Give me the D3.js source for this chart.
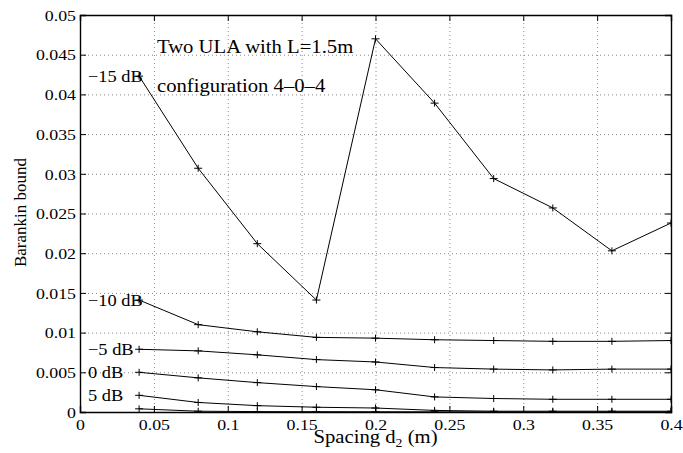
<!DOCTYPE html>
<html>
<head>
<meta charset="utf-8">
<script src="https://cdn.jsdelivr.net/npm/d3@7"></script>
<style>
  body { margin: 0; background: #ffffff; }
  svg text { font-family: "Liberation Serif", "Times New Roman", serif; fill: #000; }
</style>
</head>
<body>
<svg id="chart" width="683" height="453"></svg>
<script>
// spacing d2 values (m)
const spacing   = [0.04, 0.08, 0.12, 0.16, 0.20, 0.24, 0.28, 0.32, 0.36, 0.40];

// Barankin bound per SNR
const snrM15    = [0.0423, 0.0307, 0.0212, 0.0141, 0.0470, 0.0389, 0.0294, 0.0257, 0.0203, 0.0238];
const snrM10    = [0.0141, 0.0110, 0.0101, 0.0094, 0.0093, 0.0091, 0.0090, 0.0089, 0.0089, 0.0090];
const snrM5     = [0.0079, 0.0077, 0.0072, 0.0066, 0.0063, 0.0056, 0.0054, 0.0053, 0.0054, 0.0054];
const snr0      = [0.0050, 0.0043, 0.0037, 0.0032, 0.0028, 0.0019, 0.0017, 0.0016, 0.0016, 0.0016];
const snr5      = [0.0021, 0.0012, 0.0008, 0.0006, 0.0005, 0.0002, 0.0001, 0.0001, 0.0001, 0.0001];
const snr10     = [0.0004, 0.0001, 0.00005, 0.00004, 0.00003, 0.00002, 0.00002, 0.00001, 0.00001, 0.00001];

const seriesVals   = [snrM15, snrM10, snrM5, snr0, snr5, snr10];
const seriesLabels = ["\u221215 dB", "\u221210 dB", "\u22125 dB", "0 dB", "5 dB", ""];

const xTicks      = [0, 0.05, 0.1, 0.15, 0.2, 0.25, 0.3, 0.35, 0.4];
const xTickLabels = ["0", "0.05", "0.1", "0.15", "0.2", "0.25", "0.3", "0.35", "0.4"];
const yTicks      = [0, 0.005, 0.01, 0.015, 0.02, 0.025, 0.03, 0.035, 0.04, 0.045, 0.05];
const yTickLabels = ["0", "0.005", "0.01", "0.015", "0.02", "0.025", "0.03", "0.035", "0.04", "0.045", "0.05"];

const notes = ["Two ULA with L=1.5m", "configuration 4\u20130\u20134"];

const W = 683, H = 453;
const margin = { top: 15, right: 12, bottom: 41, left: 80 };
const pw = W - margin.left - margin.right;
const ph = H - margin.top - margin.bottom;
const sx = 1.15; // the picture's text is a little wider than it is tall

const svg = d3.select("#chart");
const g = svg.append("g").attr("transform", "translate(" + margin.left + "," + margin.top + ")");

const x = d3.scaleLinear().domain([0, 0.4]).range([0, pw]);
const y = d3.scaleLinear().domain([0, 0.05]).range([ph, 0]);

svg.append("clipPath").attr("id", "plotClip")
  .append("rect").attr("width", pw).attr("height", ph);

// dotted grid
g.append("g")
  .attr("class", "grid")
  .attr("transform", "translate(0," + ph + ")")
  .call(d3.axisBottom(x).tickValues(xTicks).tickSize(-ph).tickFormat(""))
  .call(s => s.select(".domain").remove());
g.append("g")
  .attr("class", "grid")
  .call(d3.axisLeft(y).tickValues(yTicks).tickSize(-pw).tickFormat(""))
  .call(s => s.select(".domain").remove());
g.selectAll(".grid line")
  .attr("stroke", "#888")
  .attr("stroke-width", 1)
  .attr("stroke-dasharray", "1,3");

// axes with inward ticks on all four sides
const xAx = g.append("g")
  .attr("transform", "translate(0," + ph + ")")
  .call(d3.axisBottom(x).tickValues(xTicks).tickSize(-6).tickFormat((d, i) => xTickLabels[i]));
xAx.selectAll("text")
  .attr("y", 0).attr("dy", 0)
  .attr("transform", "translate(0,18) scale(" + sx + ",1)")
  .style("font-size", "15.5px");

const yAx = g.append("g")
  .call(d3.axisLeft(y).tickValues(yTicks).tickSize(-6).tickFormat((d, i) => yTickLabels[i]));
yAx.selectAll("text")
  .attr("x", 0).attr("dy", "0.34em")
  .attr("transform", "translate(-4,0) scale(" + sx + ",1)")
  .style("font-size", "15.5px");

g.append("g").call(d3.axisTop(x).tickValues(xTicks).tickSize(-6).tickFormat(""));
g.append("g").attr("transform", "translate(" + pw + ",0)")
  .call(d3.axisRight(y).tickValues(yTicks).tickSize(-6).tickFormat(""));

g.selectAll(".tick line").filter(function(){ return !this.closest(".grid"); })
  .attr("stroke", "#000").attr("stroke-width", 1);
g.selectAll(".domain").attr("stroke", "#000").attr("stroke-width", 1.4);

// curves
const line = d3.line().x((d, i) => x(spacing[i])).y(d => y(d));
const plot = g.append("g").attr("clip-path", "url(#plotClip)");

seriesVals.forEach((vals, si) => {
  plot.append("path")
    .datum(vals)
    .attr("d", line)
    .attr("fill", "none")
    .attr("stroke", "#000")
    .attr("stroke-width", 1);

  plot.selectAll(".mk" + si)
    .data(vals)
    .enter()
      .append("path")
        .attr("class", "mk" + si)
        .attr("d", "M-4,0H4M0,-3.5V3.5")
        .attr("transform", (d, i) => "translate(" + x(spacing[i]) + "," + y(d) + ")")
        .attr("stroke", "#000")
        .attr("stroke-width", 1);
});

// SNR labels at the start of each curve
seriesLabels.forEach((lab, si) => {
  if (!lab) return;
  g.append("text")
    .attr("transform", "translate(" + (x(0) + 8) + "," + (y(seriesVals[si][0]) + 5.5) + ") scale(" + sx + ",1)")
    .style("font-size", "16px")
    .text(lab);
});

// annotations
g.append("text")
  .attr("transform", "translate(" + (157 - margin.left) + "," + (53 - margin.top) + ") scale(" + sx + ",1)")
  .style("font-size", "18px")
  .text(notes[0]);
g.append("text")
  .attr("transform", "translate(" + (157 - margin.left) + "," + (92 - margin.top) + ") scale(" + sx + ",1)")
  .style("font-size", "18px")
  .text(notes[1]);

// axis titles
const xt = svg.append("text")
  .attr("transform", "translate(" + (margin.left + pw / 2) + ",443) scale(" + sx + ",1)")
  .attr("text-anchor", "middle")
  .style("font-size", "18px");
xt.append("tspan").text("Spacing d");
xt.append("tspan").attr("dy", 4).style("font-size", "12px").text("2");
xt.append("tspan").attr("dy", -4).text(" (m)");

svg.append("text")
  .attr("transform", "translate(26," + (margin.top + ph / 2 - 1) + ") rotate(-90)")
  .attr("text-anchor", "middle")
  .style("font-size", "17px")
  .text("Barankin bound");
</script>
</body>
</html>
